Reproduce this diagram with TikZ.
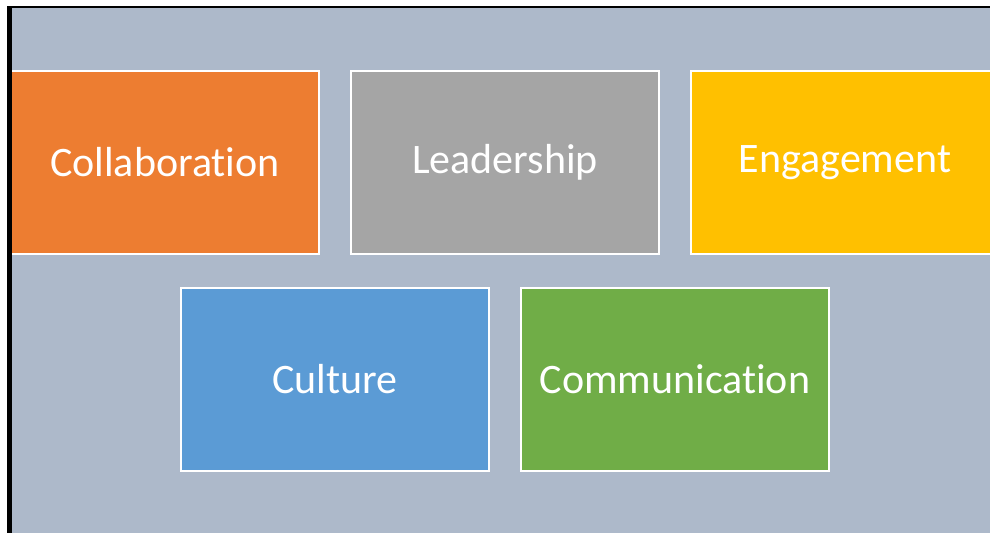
\documentclass[tikz,border=0pt]{standalone}
\usepackage{fontspec}
\setmainfont{Carlito}[Ligatures={NoCommon,NoRare}]
\usetikzlibrary{positioning}

\definecolor{panelbg}{HTML}{ADB9CA}
\definecolor{tileorange}{HTML}{ED7D31}
\definecolor{tilegray}{HTML}{A5A5A5}
\definecolor{tileyellow}{HTML}{FFC000}
\definecolor{tileblue}{HTML}{5B9BD5}
\definecolor{tilegreen}{HTML}{70AD47}

\tikzset{
  tile/.style={draw=white, line width=2pt, text=white, inner sep=0pt, outer sep=0pt,
    minimum width=308pt, minimum height=183pt, font=\fontsize{42}{50}\selectfont}
}

\begin{document}
\begin{tikzpicture}[x=1pt,y=-1pt]
\useasboundingbox (0,0) rectangle (990,533);
\begin{scope}
\clip (0,0) rectangle (990,533);
\fill[panelbg] (12,8) rectangle (990,533);
% top row
\node[tile, fill=tileorange] (collab) at (165,162.5) {Collaboration};
\node[tile, fill=tilegray] (lead) at (505,162.5) {Leadership};
\node[tile, fill=tileyellow] (engage) at (845,162.5) {Engagement};
% bottom row
\node[tile, fill=tileblue] (culture) at (335,379.5) {Culture};
\node[tile, fill=tilegreen] (comm) at (675,379.5) {Communication};
\end{scope}
% frame edges
\fill[black] (7.3,6) rectangle (12,533);
\fill[black] (7.3,6) rectangle (990,8.4);
\end{tikzpicture}
\end{document}
